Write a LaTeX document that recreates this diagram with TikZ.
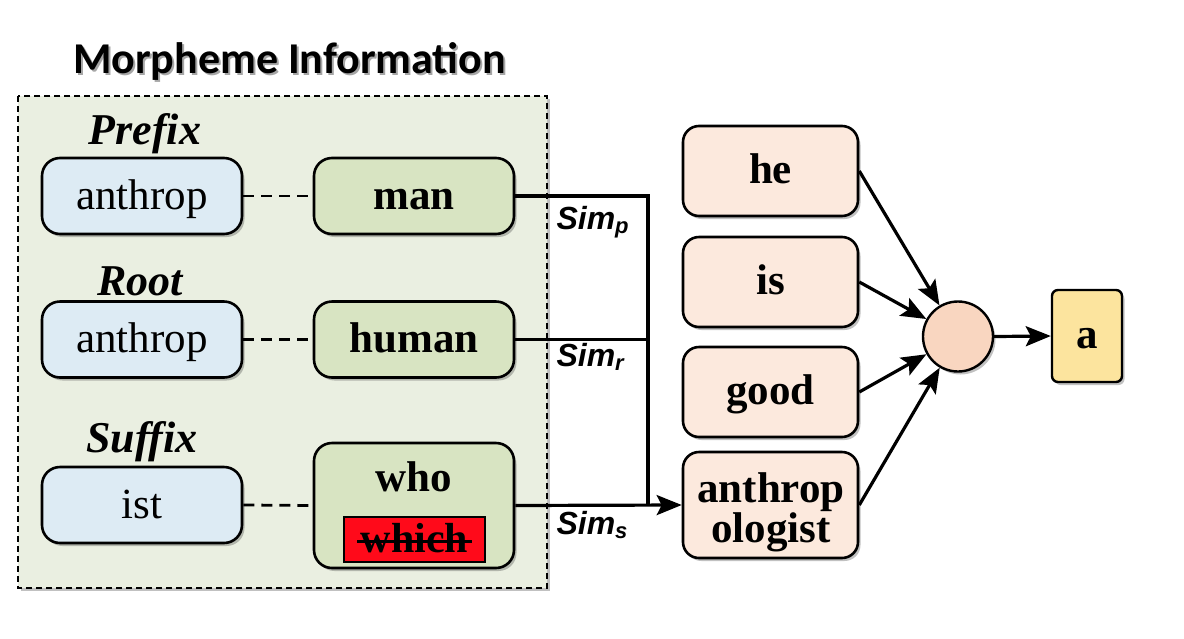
\documentclass[tikz,border=0pt]{standalone}
\usepackage{fontspec}
\setmainfont{Liberation Serif}
\newfontfamily\titlefont{Carlito}
\newfontfamily\simfont{Liberation Sans}
\usetikzlibrary{shadows,arrows.meta,shapes.geometric}
\definecolor{panelbg}{HTML}{EAEFE1}
\definecolor{bluebox}{HTML}{DDEBF4}
\definecolor{greenbox}{HTML}{D8E4C2}
\definecolor{peachbox}{HTML}{FCE9DD}
\definecolor{circfill}{HTML}{F9D6C0}
\definecolor{yellowbox}{HTML}{FCE49E}
\definecolor{redbox}{HTML}{FF0A1A}
\begin{document}
\begin{tikzpicture}[x=1pt,y=-1pt,
  shad/.style={drop shadow={shadow xshift=2.5pt,shadow yshift=-3pt,opacity=0.35,fill=black!70}},
  box/.style={draw=black,line width=2.6pt,rounded corners=18pt,inner sep=0pt,
     minimum width=200pt,minimum height=76pt,shad,text height=32pt,text depth=6pt},
  regtxt/.style={font=\fontsize{43}{46}\selectfont},
  boldtxt/.style={font=\bfseries\fontsize{43}{46}\selectfont},
  lbl/.style={font=\bfseries\itshape\fontsize{44}{46}\selectfont,anchor=base},
  wordbox/.style={draw=black,line width=2.6pt,rounded corners=16pt,inner sep=0pt,
     minimum width=175pt,minimum height=90pt,fill=peachbox,shad,
     font=\bfseries\fontsize{43}{40}\selectfont,text height=30pt,text depth=6pt},
  simlbl/.style={font=\simfont\bfseries\itshape\fontsize{32}{34}\selectfont,anchor=base west},
  conn/.style={line width=3.2pt},
  arr/.style={line width=3.2pt,-{Stealth[length=25pt,width=20pt,inset=5pt]}},
  dashc/.style={line width=2.8pt,dash pattern=on 11pt off 7pt}
]
\useasboundingbox (0,0) rectangle (1184,638);

% title
\node[font=\titlefont\bfseries\fontsize{44}{46}\selectfont,text=black!35,anchor=base] (titsh) at (291.5,75) {Morpheme Information};
\node[font=\titlefont\bfseries\fontsize{44}{46}\selectfont,anchor=base] (title) at (289.5,73) {Morpheme Information};

% panel
\draw[dash pattern=on 6pt off 4pt,line width=1.5pt,fill=panelbg,shad] (18,96) rectangle (547,588);

% labels
\node[lbl] (lp) at (145,144) {Prefix};
\node[lbl] (lr) at (140,295) {Root};
\node[lbl] (ls) at (142,452) {Suffix};

% morpheme boxes
\node[box,fill=bluebox,regtxt] (pa) at (142,196) {anthrop};
\node[box,fill=greenbox,boldtxt] (pm) at (414,196) {man};
\node[box,fill=bluebox,regtxt] (ra) at (142,339.5) {anthrop};
\node[box,fill=greenbox,boldtxt] (rh) at (414,339.5) {human};
\node[box,fill=bluebox,regtxt] (si) at (142,505) {ist};
\node[box,fill=greenbox,minimum height=125pt] (sw) at (414,505.5) {};
\node[boldtxt,anchor=base] (who) at (414,491) {who};
\node[draw=black,line width=1.2pt,fill=redbox,minimum width=141pt,minimum height=45pt,inner sep=0pt,
      text height=30pt,text depth=4pt,
      font=\bfseries\fontsize{42}{44}\selectfont] (which) at (414.5,539.5) {which};
\draw[line width=2.4pt] ([xshift=14pt,yshift=-2pt]which.west) -- ([xshift=-14pt,yshift=-2pt]which.east);

% dashed links
\draw[dashc] (pa.east) -- (pm.west);
\draw[dashc] (ra.east) -- (rh.west);
\draw[dashc] (si.east) -- (sw.west);

% right word boxes
\node[wordbox] (he) at (770.5,171) {he};
\node[wordbox] (is) at (770.5,282) {is};
\node[wordbox] (good) at (770.5,392) {good};
\node[wordbox,minimum height=106pt] (anth) at (770.5,505) {};
\node[font=\bfseries\fontsize{43}{40}\selectfont,anchor=base] (anth1) at (771,502) {anthrop};
\node[font=\bfseries\fontsize{43}{40}\selectfont,anchor=base] (anth2) at (771,542) {ologist};

% circle and output
\node[circle,draw=black,line width=2.4pt,fill=circfill,minimum size=70pt,inner sep=0pt,shad] (circ) at (958,336.5) {};
\node[draw=black,line width=2.4pt,rounded corners=6pt,fill=yellowbox,minimum width=70pt,minimum height=92pt,
      inner sep=0pt,shad,text height=30pt,text depth=6pt,font=\bfseries\fontsize{43}{44}\selectfont] (out) at (1087,336) {a};

% connectors
\coordinate (bp) at (648,196);
\coordinate (bs) at (648,505);
\draw[conn] (pm.east) -- (bp) -- (bs);
\draw[conn] (rh.east) -- (rh.east -| bp);
\draw[arr] (sw.east) -- (anth.west);

\node[simlbl] (simp) at (553,229) {Sim\raisebox{-0.15em}{\fontsize{22}{22}\selectfont p}};
\node[simlbl] (simr) at (553,366) {Sim\raisebox{-0.15em}{\fontsize{22}{22}\selectfont r}};
\node[simlbl] (sims) at (553,534) {Sim\raisebox{-0.15em}{\fontsize{22}{22}\selectfont s}};

\draw[arr] (he.east) -- (circ);
\draw[arr] (is.east) -- (circ);
\draw[arr] (good.east) -- (circ);
\draw[arr] (anth.east) -- (circ);
\draw[arr] (circ.east) -- (out.west);
\end{tikzpicture}
\end{document}
